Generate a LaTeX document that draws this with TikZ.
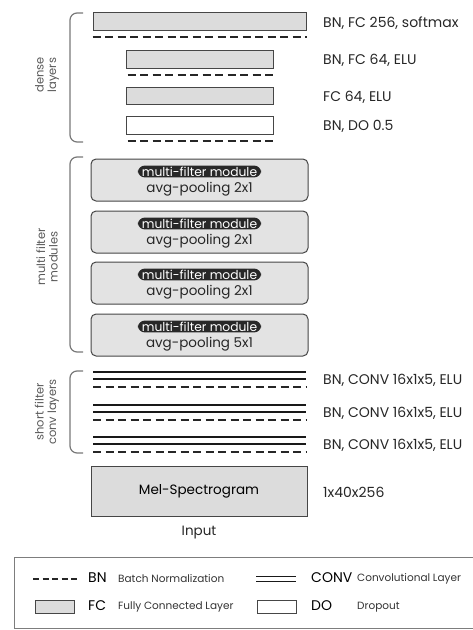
\documentclass[tikz,border=0pt]{standalone}
\usepackage{fontspec}
\setmainfont{Poppins}
\usepackage{tikz}
\usetikzlibrary{positioning, calc}
\definecolor{fcgray}{RGB}{220,220,220}
\definecolor{edgegray}{RGB}{70,70,70}
\definecolor{bracegray}{RGB}{120,120,120}
\definecolor{pilldark}{RGB}{40,40,40}
\tikzset{
  fcbox/.style={rectangle, draw=edgegray, fill=fcgray, line width=1pt, inner sep=0pt},
  dobox/.style={rectangle, draw=edgegray, fill=white, line width=1pt, inner sep=0pt},
  modbox/.style={rectangle, draw=edgegray, fill=fcgray!80, line width=1pt,
    rounded corners=5pt, minimum width=217, minimum height=42, inner sep=0pt},
  pill/.style={rectangle, rounded corners=7pt, fill=pilldark, text=white,
    font=\fontsize{12.3}{13}\selectfont, inner xsep=4pt, inner ysep=1.2pt},
  bnline/.style={line width=2pt, dash pattern=on 8pt off 4.5pt, color=black!85},
  convline/.style={line width=1.6pt, color=black!90},
  brace/.style={line width=1.2pt, color=bracegray, rounded corners=7pt},
  lbl/.style={anchor=west, font=\fontsize{14}{15}\selectfont, text=black!85, inner sep=0pt},
  side/.style={rotate=90, align=center, font=\fontsize{11.5}{12.5}\selectfont, text=black!65},
  keybig/.style={anchor=west, font=\fontsize{14}{15}\selectfont, inner sep=0pt},
  keysmall/.style={anchor=west, font=\fontsize{10.5}{11}\selectfont, text=black!80, inner sep=0pt}
}
\begin{document}
\begin{tikzpicture}[x=1pt, y=-1pt]
  \useasboundingbox (0,0) rectangle (472,630);

  % dense layers
  \node[fcbox, minimum width=213, minimum height=18] (fc256) at (199.5,21.5) {};
  \node[fcbox, minimum width=147, minimum height=18] (fc64a) at (199.5,59) {};
  \node[fcbox, minimum width=147, minimum height=17] (fc64b) at (199.5,95.5) {};
  \node[dobox, minimum width=147, minimum height=18] (drop) at (199.5,125) {};
  \draw[bnline] ([yshift=-6pt]fc256.south west) -- ([yshift=-6pt]fc256.south east);
  \draw[bnline] ([yshift=-6pt,xshift=2pt]fc64a.south west) -- ([yshift=-6pt]fc64a.south east);
  \draw[bnline] ([yshift=-6pt,xshift=2pt]drop.south west) -- ([yshift=-6pt]drop.south east);
  \node[lbl] (l256) at (323,23) {BN, FC 256, softmax};
  \node[lbl] (l64a) at (323,60) {BN, FC 64, ELU};
  \node[lbl] (l64b) at (323,97) {FC 64, ELU};
  \node[lbl] (ldo) at (323,126) {BN, DO 0.5};
  \draw[brace] (83,13) -- (70,13) -- (70,142) -- (83,142);
  \node[side] (tdense) at (47,75) {dense\\layers};

  % multi filter modules
  \foreach \i/\y in {1/180, 2/232, 3/283, 4/335}{
    \node[modbox] (mod\i) at (199.5,\y) {};
    \node[pill] (pill\i) at ([yshift=-13pt]mod\i.north) {multi-filter module};
  }
  \foreach \i/\p in {1/2x1, 2/2x1, 3/2x1, 4/5x1}{
    \node[font=\fontsize{13.5}{14}\selectfont, text=black!85, inner sep=0pt]
      (pool\i) at ([yshift=-31pt]mod\i.north) {avg-pooling \p};
  }
  \draw[brace] (83,157) -- (70,157) -- (70,352) -- (83,352);
  \node[side] (tmulti) at (47,257) {multi filter\\modules};

  % short filter conv layers
  \foreach \i/\y in {1/372, 2/405, 3/437}{
    \coordinate (cl\i) at (93,\y);
    \coordinate (cr\i) at (306,\y);
    \draw[convline] (cl\i) -- (cr\i);
    \draw[convline] ([yshift=-7pt]cl\i) -- ([yshift=-7pt]cr\i);
    \draw[bnline] ([yshift=-15pt]cl\i) -- ([yshift=-15pt]cr\i);
    \node[lbl] (lconv\i) at (323,\y+8) {BN, CONV 16x1x5, ELU};
  }
  \draw[brace] (83,371) -- (70,371) -- (70,453) -- (83,453);
  \node[side] (tshort) at (47,412) {short filter\\conv layers};

  % input
  \node[fcbox, minimum width=216, minimum height=50,
    font=\fontsize{13.5}{14}\selectfont] (mel) at (199,491) {Mel-Spectrogram};
  \node[lbl] (lmel) at (323,492) {1x40x256};
  \node[font=\fontsize{13.5}{14}\selectfont, text=black!85] (input) at (199,533) {Input};

  % legend
  \draw[edgegray!70, line width=0.8pt] (14,557) rectangle (480,628);
  \coordinate (kbn1) at (33,579);
  \coordinate (kbn2) at (80,579);
  \draw[bnline, dash pattern=on 6pt off 3.5pt] (kbn1) -- (kbn2);
  \node[keybig] (kbn) at (88,578) {BN};
  \node[keysmall] (kbnt) at (118,579) {Batch Normalization};
  \coordinate (kcv1) at (256,576.5);
  \coordinate (kcv2) at (296,576.5);
  \draw[convline] (kcv1) -- (kcv2);
  \draw[convline] ([yshift=-5pt]kcv1) -- ([yshift=-5pt]kcv2);
  \node[keybig] (kcv) at (311,578) {CONV};
  \node[keysmall] (kcvt) at (357,579) {Convolutional Layer};
  \node[fcbox, minimum width=39, minimum height=13] (kfcbox) at (54.5,607) {};
  \node[keybig] (kfc) at (88,606) {FC};
  \node[keysmall] (kfct) at (118,607) {Fully Connected Layer};
  \node[dobox, minimum width=39, minimum height=13] (kdobox) at (276.5,607) {};
  \node[keybig] (kdo) at (311,606) {DO};
  \node[keysmall] (kdot) at (357,607) {Dropout};
\end{tikzpicture}
\end{document}
